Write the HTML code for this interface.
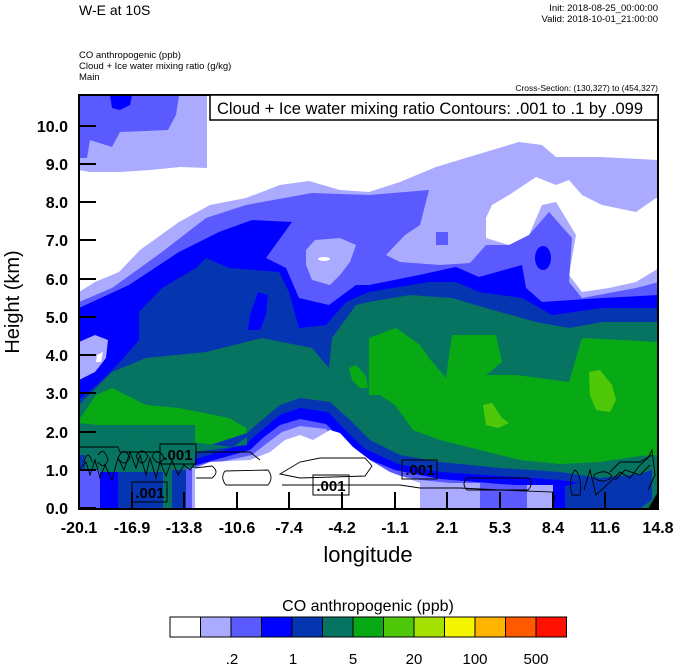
<!DOCTYPE html>
<html><head><meta charset="utf-8"><style>
html,body{margin:0;padding:0;background:#fff;}
svg{display:block;font-family:"Liberation Sans",Arial,sans-serif;}
</style></head><body>
<svg width="674" height="667" viewBox="0 0 674 667" xmlns="http://www.w3.org/2000/svg">
<defs><clipPath id="pc"><rect x="79" y="95" width="579" height="414"/></clipPath></defs>
<text x="79" y="15" font-size="14">W-E at 10S</text>
<text x="658" y="11" font-size="9.5" text-anchor="end">Init: 2018-08-25_00:00:00</text>
<text x="658" y="22" font-size="9.5" text-anchor="end">Valid: 2018-10-01_21:00:00</text>
<text x="79" y="58" font-size="9.5">CO anthropogenic   (ppb)</text>
<text x="79" y="69" font-size="9.5">Cloud + Ice water mixing ratio   (g/kg)</text>
<text x="79" y="80" font-size="9.5">Main</text>
<text x="658" y="91" font-size="8.5" text-anchor="end">Cross-Section: (130,327) to (454,327)</text>
<g clip-path="url(#pc)">
<rect x="79" y="95" width="579" height="414" fill="#fff"/>
<polygon fill="#aaaaff" points="79,95 207,95 207,168 180,167 150,170 120,172 90,172 79,170"/>
<polygon fill="#5a5aff" points="79,95 179,95 176,115 168,130 120,132 112,147 90,140 87,158 79,158"/>
<polygon fill="#0000ff" points="110,95 132,95 130,105 120,110 112,108"/>
<polygon fill="#aaaaff" points="79,292 95,282 119,272 140,250 179,222 210,205 246,198 280,185 309,181 340,190 369,192 400,182 436,167 469,157 519,142 542,145 556,157 600,157 659,160 659,509 79,509"/>
<polygon fill="#fff" points="486,218 492,205 509,195 536,177 556,185 569,180 582,195 602,205 636,212 656,198 659,198 659,268 636,282 609,288 582,292 569,275 576,235 556,202 542,205 529,235 509,245 486,238"/>
<polygon fill="#5a5aff" points="79,302 112,288 162,252 206,218 246,205 312,193 369,195 429,190 420,225 405,235 386,255 400,262 440,265 470,263 486,245 509,245 529,235 549,212 572,238 569,282 582,298 636,288 659,282 659,509 79,509"/>
<polygon fill="#aaaaff" points="306,250 315,240 340,238 356,245 350,262 340,275 330,285 312,280 306,265"/>
<ellipse cx="324" cy="259" rx="6" ry="2" fill="#fff"/>
<polygon fill="#5a5aff" points="436,232 448,232 448,245 436,245"/>
<polygon fill="#0000ff" points="79,308 129,285 179,252 219,232 252,220 292,222 266,258 286,268 299,298 329,305 356,285 369,285 419,275 456,267 479,277 522,265 526,288 542,302 602,298 659,295 659,509 79,509"/>
<ellipse cx="543" cy="258" rx="8" ry="12" fill="#0000ff"/>
<polygon fill="#aaaaff" points="79,342 95,335 108,340 106,358 95,372 79,380"/>
<polygon fill="#fff" points="97,355 103,352 101,362 96,362"/>
<polygon fill="#0535b0" points="79,400 100,382 120,362 139,340 139,312 162,288 196,268 206,258 229,268 279,272 289,292 299,328 326,325 346,302 369,292 429,282 456,282 479,292 522,298 552,315 602,308 659,308 659,509 79,509"/>
<polygon fill="#0000ff" points="258,292 268,295 266,315 260,330 248,330 250,315"/>
<polygon fill="#067460" points="79,405 112,372 146,358 206,352 262,338 312,348 329,368 332,338 356,305 369,302 410,295 452,298 486,308 536,322 569,328 602,322 659,322 659,509 79,509"/>
<polygon fill="#07aa15" points="79,420 96,395 112,388 146,405 179,408 229,418 246,428 247,437 233,447 190,442 150,440 113,427 79,425"/>
<polygon fill="#07aa15" points="349,368 356,365 366,376 368,388 360,388 352,380"/>
<polygon fill="#07aa15" points="369,338 396,328 420,345 429,358 446,378 452,335 496,335 502,362 486,375 516,375 569,382 582,338 659,342 659,455 640,456 600,462 560,464 520,460 480,450 440,440 413,430 395,405 380,395 369,395"/>
<polygon fill="#50c80a" points="589,372 600,370 612,385 616,400 610,412 596,410 590,395"/>
<polygon fill="#50c80a" points="483,405 492,403 502,418 509,423 498,428 486,425"/>
<polygon fill="#50c80a" points="652,95 659,95 659,102 652,102" opacity="0"/>
<!-- bottom bands -->
<polygon fill="#0535b0" points="247,433 262,420 280,405 300,398 330,402 350,420 370,440 400,455 440,462 500,468 560,472 600,478 640,480 655,470 659,465 659,509 195,509 195,450"/>
<polygon fill="#0000ff" points="247,443 262,430 280,415 300,408 328,412 345,430 365,449 398,464 440,472 500,476 560,480 600,486 640,488 659,485 659,509 193,509 193,460"/>
<polygon fill="#5a5aff" points="250,450 264,437 280,425 300,419 326,424 342,440 360,456 395,470 440,479 500,484 560,488 659,492 659,509 193,509 193,466"/>
<polygon fill="#aaaaff" points="252,455 266,444 282,432 300,426 326,429 340,445 356,458 392,474 420,480 500,488 659,496 659,509 192,509 192,468"/>
<polygon fill="#fff" points="195,509 195,468 210,462 250,460 270,452 285,440 300,435 313,440 330,430 340,433 353,447 370,460 390,472 420,483 420,509"/>
<rect x="420" y="483" width="60" height="26" fill="#aaaaff"/>
<rect x="480" y="485" width="47" height="24" fill="#5a5aff"/>
<rect x="527" y="485" width="26" height="24" fill="#aaaaff"/>
<rect x="553" y="485" width="12" height="24" fill="#0000ff"/>
<polygon fill="#0535b0" points="565,486 600,478 640,474 652,470 652,500 640,509 565,509"/>
<polygon fill="#067460" points="640,509 652,500 652,460 659,455 659,509"/>
<polygon fill="#000" points="648,509 659,490 659,509"/>
<!-- bottom-left -->
<rect x="79" y="425" width="116" height="48" fill="#067460"/>
<polygon fill="#067460" points="79,423 113,427 150,440 190,442 233,447 247,437 247,445 195,452 195,470 79,470"/>
<rect x="79" y="455" width="6" height="15" fill="#0535b0"/>
<rect x="79" y="470" width="21" height="39" fill="#5a5aff"/>
<rect x="100" y="472" width="18" height="37" fill="#0000ff"/>
<rect x="118" y="472" width="45" height="37" fill="#0535b0"/>
<rect x="163" y="472" width="9" height="37" fill="#067460"/>
<rect x="172" y="470" width="14" height="39" fill="#0535b0"/>
<rect x="186" y="468" width="6" height="41" fill="#5a5aff"/>
<rect x="192" y="468" width="3" height="41" fill="#aaaaff"/>
<!-- contours -->
<g fill="none" stroke="#000" stroke-width="0.9">
<path d="M79,447 L118,447 L120,452 L160,452 M196,452 L250,452 L260,460"/>
<path d="M79,470 L86,462 L90,475 L95,460 L100,478 L105,465 L112,480 L118,458 L124,470 L130,452 L136,468 L140,455 L146,475 L150,458 L156,478 L160,462 L166,476 L172,460 L178,475 L184,465 L190,470 L196,462"/>
<path d="M84,462 Q88,448 92,462 M98,455 Q104,446 108,460 Q104,470 98,462 M118,458 Q124,445 130,458 Q124,468 118,458 M136,456 Q142,446 148,456 Q142,470 136,456 M152,456 Q158,446 164,458 Q158,468 152,456"/>
<path d="M195,468 L212,466 Q220,472 212,478 L196,478 M225,471 L268,470 Q274,478 268,485 L226,485 Q220,478 225,471"/>
<path d="M280,474 L300,462 L320,458 L365,458 L372,466 L365,476 L300,478 Z"/>
<path d="M282,485 L400,485 L420,488 L460,488 L500,490 L553,492 L555,500"/>
<path d="M467,478 L528,478 Q534,484 528,490 L467,490 Q461,484 467,478"/>
<path d="M572,495 Q568,478 575,470 Q582,475 580,495 Z M594,475 Q605,468 612,476 Q605,485 594,478 Z M584,490 L590,470 L596,495 L610,482 L620,472 L630,478 L640,465 L648,458 L652,450 L655,475 L648,490"/>
<path d="M610,472 L620,462 L640,462 L652,455 M615,480 L625,470 L640,475 L650,465"/>
</g>
<g fill="#fff" stroke="#000" stroke-width="1">
<rect x="160" y="444" width="36" height="20" fill="none"/>
<rect x="132" y="482" width="35" height="20" fill="none"/>
<rect x="402" y="460" width="35" height="19" fill="none"/>
<rect x="313" y="475" width="36" height="20" fill="none"/>
</g>
<g font-size="15" font-weight="bold">
<text x="178" y="460" text-anchor="middle">.001</text>
<text x="150" y="498" text-anchor="middle">.001</text>
<text x="420" y="475" text-anchor="middle">.001</text>
<text x="331" y="491" text-anchor="middle">.001</text>
</g>
</g>
<rect x="79" y="95" width="579" height="414" fill="none" stroke="#000" stroke-width="2"/>
<rect x="210" y="95" width="448" height="25" fill="#fff" stroke="#000" stroke-width="1.5"/>
<text x="217" y="114" font-size="16.5">Cloud + Ice water mixing ratio Contours: .001 to .1 by .099</text>
<g stroke="#000" stroke-width="2">
<path d="M79,508H96M79,470H96M79,432H96M79,393H96M79,355H96M79,317H96M79,279H96M79,240H96M79,202H96M79,164H96M79,126H96"/>
<path d="M132,509V492M184,509V492M237,509V492M289,509V492M342,509V492M395,509V492M447,509V492M500,509V492M553,509V492M605,509V492"/>
</g>
<g font-size="16" font-weight="bold" text-anchor="end">
<text x="68" y="514">0.0</text><text x="68" y="476">1.0</text><text x="68" y="438">2.0</text><text x="68" y="399">3.0</text><text x="68" y="361">4.0</text><text x="68" y="323">5.0</text><text x="68" y="285">6.0</text><text x="68" y="246">7.0</text><text x="68" y="208">8.0</text><text x="68" y="170">9.0</text><text x="68" y="132">10.0</text>
</g>
<g font-size="16" font-weight="bold" text-anchor="middle">
<text x="79" y="533">-20.1</text><text x="132" y="533">-16.9</text><text x="184" y="533">-13.8</text><text x="237" y="533">-10.6</text><text x="289" y="533">-7.4</text><text x="342" y="533">-4.2</text><text x="395" y="533">-1.1</text><text x="447" y="533">2.1</text><text x="500" y="533">5.3</text><text x="553" y="533">8.4</text><text x="605" y="533">11.6</text><text x="658" y="533">14.8</text>
</g>
<text x="368" y="562" font-size="22" text-anchor="middle">longitude</text>
<text transform="translate(19,302) rotate(-90)" font-size="20" text-anchor="middle">Height (km)</text>
<text x="368" y="611" font-size="16" text-anchor="middle">CO anthropogenic  (ppb)</text>
<g stroke="#000" stroke-width="1">
<rect x="170" y="617" width="30.5" height="20" fill="#ffffff"/>
<rect x="200.5" y="617" width="30.5" height="20" fill="#aaaaff"/>
<rect x="231" y="617" width="30.5" height="20" fill="#5a5aff"/>
<rect x="261.5" y="617" width="30.5" height="20" fill="#0000ff"/>
<rect x="292" y="617" width="30.5" height="20" fill="#0535b0"/>
<rect x="322.5" y="617" width="30.5" height="20" fill="#067460"/>
<rect x="353" y="617" width="30.5" height="20" fill="#07aa15"/>
<rect x="383.5" y="617" width="30.5" height="20" fill="#50c80a"/>
<rect x="414" y="617" width="30.5" height="20" fill="#a5e100"/>
<rect x="444.5" y="617" width="30.5" height="20" fill="#f5f500"/>
<rect x="475" y="617" width="30.5" height="20" fill="#ffb400"/>
<rect x="505.5" y="617" width="30.5" height="20" fill="#ff5a00"/>
<rect x="536" y="617" width="30.5" height="20" fill="#ff1000"/>
</g>
<g font-size="15" text-anchor="middle">
<text x="232" y="664">.2</text><text x="293" y="664">1</text><text x="353" y="664">5</text><text x="414" y="664">20</text><text x="475" y="664">100</text><text x="536" y="664">500</text>
</g>
</svg>
</body></html>
